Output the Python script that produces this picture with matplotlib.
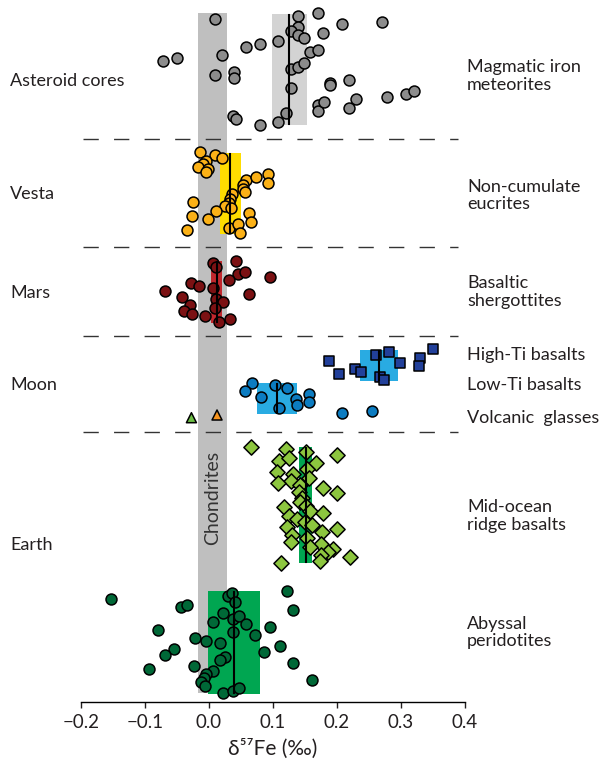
import numpy as np
import matplotlib
matplotlib.use('Agg')
import matplotlib.pyplot as plt
from matplotlib.patches import Rectangle

plt.rcParams['font.family'] = ['Lato', 'DejaVu Sans']

# --- delta57Fe values (permil) and row positions of each sample ---
ast_x = [0.010, 0.140, 0.170, 0.209, 0.270, 0.140, 0.128, 0.140, 0.149, 0.179,
         0.109, 0.080, 0.059, -0.071, -0.050, 0.020, 0.159, 0.170, 0.010, 0.040,
         0.040, 0.128, 0.139, 0.149, 0.129, 0.190, 0.190, 0.219, 0.230, 0.279,
         0.309, 0.320, 0.170, 0.170, 0.180, 0.219, 0.038, 0.042, 0.080, 0.109, 0.120]
ast_y = [19, 15.7, 13.3, 24.3, 21.7, 26.7, 30.7, 35, 38.3, 32.7,
         41.3, 44, 47, 60.7, 58, 55.3, 52.3, 50, 75, 71.7,
         77.7, 69.3, 66.7, 63.3, 88.3, 82.7, 85.3, 80, 99.3, 97.3,
         94.3, 91, 105.3, 110.7, 102.3, 107.7, 116, 118.7, 124.7, 121.7, 113.3]

vesta_x = [-0.014, 0.010, 0.021, -0.004, -0.009, -0.016, -0.001, -0.004, 0.059, 0.074,
           0.092, 0.092, 0.054, 0.053, 0.056, -0.024, 0.037, 0.033, 0.031, 0.025,
           0.035, 0.011, -0.026, -0.001, 0.0625, 0.066, -0.034, 0.032, 0.045, 0.049]
vesta_y = [152.3, 155, 158.3, 161, 164, 166.7, 169, 171.7, 180, 177,
           174.3, 183.3, 185, 189, 191.7, 202.3, 194.3, 199.3, 203.3, 205.7,
           208.3, 211, 216, 219.3, 213.3, 222.3, 230, 227.7, 224.3, 233.3]

mars_x = [0.007, 0.011, 0.043, 0.045, 0.057, 0.032, 0.095, -0.068, -0.028, -0.015,
          -0.042, 0.006, 0.063, -0.030, -0.039, -0.026, 0.011, 0.023, 0.010, -0.006,
          0.016, 0.033]
mars_y = [263.3, 266.7, 260.7, 274.3, 271.7, 280, 277.3, 291, 282.7, 285.7,
          296.7, 288.3, 294, 305, 310.7, 314, 299, 302.3, 307.7, 316,
          322, 319]

hiti_x = [0.188, 0.204, 0.229, 0.238, 0.261, 0.282, 0.299, 0.267, 0.274, 0.330, 0.329, 0.350]
hiti_y = [360.7, 374.3, 369, 371.7, 355, 352, 363.3, 377.3, 380, 357.7, 366, 349.3]

loti_x = [0.067, 0.056, 0.082, 0.104, 0.122, 0.110, 0.137, 0.1375, 0.157, 0.157, 0.208, 0.255]
loti_y = [382.7, 391, 396.7, 385.3, 388.3, 407.7, 399, 405, 393.7, 402.3, 413.3, 410.7]

glass_x = [-0.027, 0.013]
glass_y = [417.7, 415]

morb_x = [0.066, 0.120, 0.152, 0.200, 0.110, 0.126, 0.167, 0.154, 0.106, 0.132,
          0.157, 0.128, 0.108, 0.143, 0.179, 0.141, 0.201, 0.146, 0.143, 0.118,
          0.152, 0.158, 0.179, 0.125, 0.138, 0.151, 0.161, 0.122, 0.201, 0.177,
          0.130, 0.153, 0.128, 0.175, 0.159, 0.194, 0.186, 0.176, 0.221, 0.174, 0.1125]
morb_y = [446.7, 449, 452, 454.7, 460.7, 457.7, 463, 469, 471.7, 474.3,
          477.7, 480.7, 482.7, 485, 488.3, 491.7, 493.3, 498.3, 501.7, 507.3,
          506, 510.7, 512.7, 516, 518.7, 522, 525, 527.3, 529.3, 532.3,
          535.3, 538.3, 541.7, 543.7, 547.3, 548.7, 551.7, 554.7, 557.3, 560.7, 563.3]

peri_x = [-0.153, -0.043, -0.034, 0.030, 0.036, 0.041, 0.123, 0.132, 0.023, 0.0375,
          0.048, 0.058, 0.007, 0.096, -0.079, 0.038, 0.073, -0.021, -0.004, 0.017,
          0.111, -0.055, -0.068, 0.086, 0.025, 0.017, 0.132, -0.0225, -0.093, 0.007,
          -0.005, -0.007, -0.0125, -0.006, 0.162, 0.022, 0.0375, 0.048]
peri_y = [599, 607.3, 604.7, 596, 593.3, 602, 590.7, 610.3, 612.7, 618.7,
          615.7, 624, 621.7, 626.7, 630, 632.3, 635.3, 638, 640.7, 643.3,
          646, 649.3, 655, 651.7, 657.3, 660, 662.7, 665.7, 668.7, 671.3,
          674.3, 678.3, 682, 686, 679.7, 693.3, 690.7, 688]

# group ranges: (low, high, median, top, bottom, colour)
ranges = [
    (0.099, 0.153, 0.126, 14, 125, '#d3d3d3'),
    (0.018, 0.050, 0.034, 153, 234, '#ffdd00'),
    (0.0036, 0.0208, 0.0135, 261, 323, '#c1272d'),
    (0.236, 0.296, 0.266, 350, 381, '#29abe2'),
    (0.076, 0.1375, 0.106, 383, 414, '#29abe2'),
    (0.141, 0.161, 0.1516, 447, 563, '#00a651'),
    (-0.001, 0.080, 0.0395, 591, 694, '#00a651'),
]
chondrite = (-0.017, 0.028)
separators = [139, 247, 336, 432]

fig = plt.figure(figsize=(6, 7.62), dpi=100)
ax = fig.add_axes([80.7 / 600, 60 / 762, 384 / 600, 702 / 762])
ax.set_xlim(-0.2, 0.4)
ax.set_ylim(702, 0)

# chondrite reference band
ax.add_patch(Rectangle((chondrite[0], 13), chondrite[1] - chondrite[0], 680,
                       facecolor='#bfbfbf', edgecolor='none', zorder=1))
ax.text(np.mean(chondrite), 498, 'Chondrites', rotation=90, ha='center', va='center',
        fontsize=14, color='#333333', zorder=2)

for lo, hi, med, top, bot, col in ranges:
    ax.add_patch(Rectangle((lo, top), hi - lo, bot - top, facecolor=col,
                           edgecolor='none', zorder=2))
    ax.plot([med, med], [top + 1, bot - 1], color='black', lw=1.5, zorder=4)

for y in separators:
    ax.plot([-0.197, 0.39], [y, y], color='#333333', lw=1,
            dashes=(11, 11), zorder=1)

kw = dict(edgecolors='black', linewidths=1.1, zorder=3)
ax.scatter(ast_x, ast_y, s=62, c='#8c8c8c', marker='o', **kw)
ax.scatter(vesta_x, vesta_y, s=62, c='#fbb117', marker='o', **kw)
ax.scatter(mars_x, mars_y, s=62, c='#7b1113', marker='o', **kw)
ax.scatter(hiti_x, hiti_y, s=52, c='#22409a', marker='s', **kw)
ax.scatter(loti_x, loti_y, s=62, c='#0c7cc1', marker='o', **kw)
ax.scatter(glass_x, glass_y, s=52, c=['#6cbd45', '#f7941d'], marker='^', **kw)
ax.scatter(morb_x, morb_y, s=60, c='#8dc63f', marker='D', **kw)
ax.scatter(peri_x, peri_y, s=62, c='#006837', marker='o', **kw)

for side in ['top', 'left', 'right']:
    ax.spines[side].set_visible(False)
ax.spines['bottom'].set_linewidth(1)
ax.set_yticks([])
ax.set_xticks([-0.2, -0.1, 0.0, 0.1, 0.2, 0.3, 0.4])
ax.set_xticklabels(['\u22120.2', '\u22120.1', '0.0', '0.1', '0.2', '0.3', '0.4'])
ax.tick_params(axis='x', direction='out', length=4, width=1, labelsize=13.5,
               pad=5, colors='#231f20')
ax.set_xlabel('\u03b4\u2075\u2077Fe (\u2030)', fontsize=15, color='#231f20', labelpad=5)

# group names on the left, sample types on the right
left = [('Asteroid cores', 81), ('Vesta', 194), ('Mars', 293), ('Moon', 385), ('Earth', 545)]
right = [('Magmatic iron\nmeteorites', 76), ('Non-cumulate\neucrites', 195.5),
         ('Basaltic\nshergottites', 292), ('High-Ti basalts', 355), ('Low-Ti basalts', 385),
         ('Volcanic  glasses', 417.5), ('Mid-ocean\nridge basalts', 516),
         ('Abyssal\nperidotites', 632.5)]
for txt, y in left:
    fig.text(10 / 600, 1 - y / 762, txt, ha='left', va='center', fontsize=13,
             color='#231f20')
for txt, y in right:
    fig.text(467 / 600, 1 - y / 762, txt, ha='left', va='center', fontsize=13,
             color='#231f20', linespacing=1.15)

fig.savefig('out.png', dpi=100)
